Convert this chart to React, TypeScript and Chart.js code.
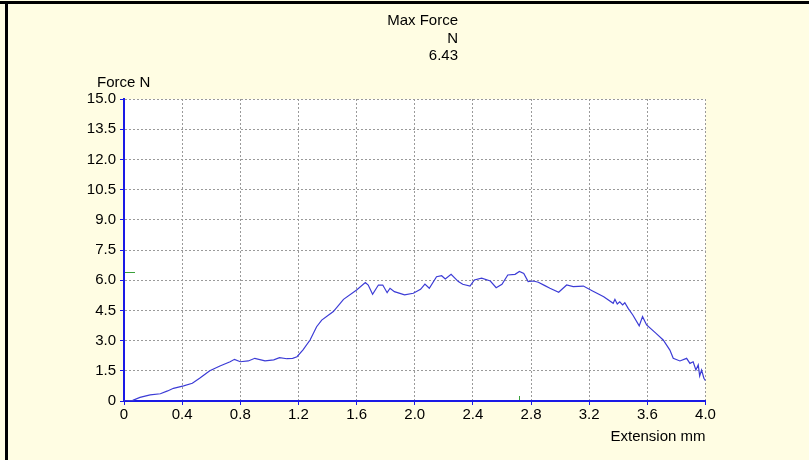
import React, { useEffect, useRef } from 'react';
import { Chart, registerables } from 'chart.js';

Chart.register(...registerables);

// ---- data ----
const extensionMm = [
  0, 0.06, 0.11, 0.18, 0.25, 0.3, 0.34, 0.41, 0.47, 0.52, 0.59, 0.66, 0.73, 0.76, 0.8, 0.855, 0.9, 0.97,
  1.03, 1.07, 1.12, 1.16, 1.19, 1.23, 1.28, 1.325, 1.36, 1.44, 1.51, 1.6, 1.66, 1.68, 1.71, 1.75, 1.78,
  1.81, 1.83, 1.86, 1.93, 1.99, 2.04, 2.07, 2.1, 2.15, 2.185, 2.21, 2.25, 2.3, 2.33, 2.38, 2.41, 2.46,
  2.52, 2.56, 2.6, 2.64, 2.69, 2.72, 2.75, 2.78, 2.815, 2.85, 2.895, 2.93, 2.99, 3.045, 3.09, 3.16, 3.22,
  3.3, 3.365, 3.377, 3.393, 3.41, 3.43, 3.445, 3.468, 3.5, 3.544, 3.567, 3.595, 3.66, 3.709, 3.755,
  3.778, 3.824, 3.87, 3.893, 3.915, 3.934, 3.95, 3.96, 3.973, 3.989, 4.0,
];
const forceN = [
  0, 0.03, 0.18, 0.3, 0.36, 0.5, 0.63, 0.75, 0.88, 1.13, 1.5, 1.74, 1.95, 2.07, 1.95, 1.99, 2.12, 1.99,
  2.04, 2.15, 2.1, 2.12, 2.2, 2.53, 3.03, 3.69, 4.02, 4.44, 5.05, 5.51, 5.88, 5.76, 5.3, 5.76, 5.76,
  5.38, 5.6, 5.43, 5.27, 5.35, 5.55, 5.81, 5.6, 6.17, 6.22, 6.06, 6.29, 5.93, 5.8, 5.71, 6.01, 6.1,
  5.96, 5.63, 5.8, 6.26, 6.29, 6.43, 6.34, 5.93, 5.96, 5.9, 5.73, 5.6, 5.4, 5.76, 5.68, 5.71, 5.48,
  5.18, 4.85, 5.05, 4.82, 4.93, 4.77, 4.88, 4.6, 4.27, 3.73, 4.19, 3.78, 3.36, 3.03, 2.53,
  2.12, 1.99, 2.12, 1.87, 1.95, 1.54, 1.79, 1.24, 1.54, 1.13, 1.01,
];
const titleLines = ['Max Force', 'N', '6.43'];
const maxForce = 6.43;
const maxForceExtension = 2.72;
const yAxisTitle = 'Force N';
const xAxisTitle = 'Extension mm';
const xMin = 0, xMax = 4.0, xStep = 0.4;
const yMin = 0, yMax = 15.0, yStep = 1.5;

// ---- styles ----
const CREAM = '#fffde3';
const AXIS_BLUE = '#1a1ae6';
const LINE_BLUE = '#3c3cd6';
const GRID = '#9a9a9a';
const FONT = "'Liberation Sans', Arial, Helvetica, sans-serif";
const FONT_SIZE = 15;

const fmt = (v: number) => (Math.abs(v) < 1e-9 ? '0' : Number(v).toFixed(1));

export default function App() {
  const ref = useRef<HTMLCanvasElement>(null);

  useEffect(() => {
    const canvas = ref.current;
    if (!canvas) return;

    const decor = {
      id: 'decor',
      beforeDraw(chart: any) {
        const { ctx, chartArea: a } = chart;
        ctx.save();
        ctx.fillStyle = CREAM;
        ctx.fillRect(0, 0, chart.width, chart.height);
        ctx.fillStyle = '#ffffff';
        ctx.fillRect(a.left, a.top, a.right - a.left, a.bottom - a.top);
        // frame
        ctx.fillStyle = '#000000';
        ctx.fillRect(0, 1, chart.width, 3);
        ctx.fillRect(5, 1, 3, chart.height);
        ctx.restore();
      },
      afterDatasetsDraw(chart: any) {
        const { ctx, scales } = chart;
        const x = scales.x, y = scales.y;
        ctx.save();
        ctx.strokeStyle = '#3aa03a';
        ctx.lineWidth = 1;
        const yy = Math.round(y.getPixelForValue(maxForce)) + 0.5;
        ctx.beginPath();
        ctx.moveTo(x.getPixelForValue(xMin) + 1, yy);
        ctx.lineTo(x.getPixelForValue(xMin) + 11, yy);
        ctx.stroke();
        const xx = Math.round(x.getPixelForValue(maxForceExtension)) + 0.5;
        ctx.beginPath();
        ctx.moveTo(xx, y.getPixelForValue(yMin) - 1);
        ctx.lineTo(xx, y.getPixelForValue(yMin) - 5);
        ctx.stroke();
        ctx.restore();
      },
      afterDraw(chart: any) {
        const { ctx, scales } = chart;
        const x = scales.x, y = scales.y;
        ctx.save();
        ctx.fillStyle = '#000000';
        ctx.font = `${FONT_SIZE}px ${FONT}`;
        ctx.textBaseline = 'alphabetic';
        ctx.textAlign = 'right';
        titleLines.forEach((t, i) => ctx.fillText(t, 458, 25 + i * 17.5));
        ctx.textAlign = 'left';
        ctx.fillText(yAxisTitle, 97, y.getPixelForValue(yMax) - 12);
        ctx.textAlign = 'right';
        ctx.fillText(xAxisTitle, x.getPixelForValue(xMax), 441);
        ctx.restore();
      },
    };

    const chart = new Chart(canvas, {
      type: 'scatter',
      data: {
        datasets: [
          {
            data: extensionMm.map((e, i) => ({ x: e, y: forceN[i] })),
            showLine: true,
            borderColor: LINE_BLUE,
            borderWidth: 1.2,
            pointRadius: 0,
            pointHoverRadius: 0,
            tension: 0,
            fill: false,
          },
        ],
      },
      options: {
        responsive: false,
        animation: false,
        events: [],
        layout: { padding: { left: 0, top: 99, right: 103.5, bottom: 0 } },
        plugins: { legend: { display: false }, tooltip: { enabled: false }, title: { display: false } },
        scales: {
          x: {
            type: 'linear',
            min: xMin,
            max: xMax,
            afterFit(s: any) { s.height = 59; },
            ticks: {
              stepSize: xStep,
              autoSkip: false,
              maxRotation: 0,
              padding: 1,
              color: '#000',
              font: { family: FONT, size: FONT_SIZE },
              callback: (v: any) => fmt(Number(v)),
            },
            grid: { color: GRID, lineWidth: 1, tickColor: AXIS_BLUE, tickLength: 4, drawTicks: true },
            border: { display: true, color: AXIS_BLUE, width: 2, dash: [2, 2] },
          },
          y: {
            type: 'linear',
            min: yMin,
            max: yMax,
            afterFit(s: any) { s.width = 124; },
            ticks: {
              stepSize: yStep,
              autoSkip: false,
              padding: 4,
              color: '#000',
              font: { family: FONT, size: FONT_SIZE },
              callback: (v: any) => fmt(Number(v)),
            },
            grid: { color: GRID, lineWidth: 1, tickColor: AXIS_BLUE, tickLength: 4, drawTicks: true },
            border: { display: true, color: AXIS_BLUE, width: 2, dash: [2, 2] },
          },
        },
      },
      plugins: [decor],
    } as any);

    return () => chart.destroy();
  }, []);

  return (
    <div style={{ position: 'absolute', left: 0, top: 0, width: 809, height: 460, background: CREAM, overflow: 'hidden' }}>
      <canvas ref={ref} width={809} height={460} style={{ display: 'block', width: 809, height: 460 }} />
    </div>
  );
}
